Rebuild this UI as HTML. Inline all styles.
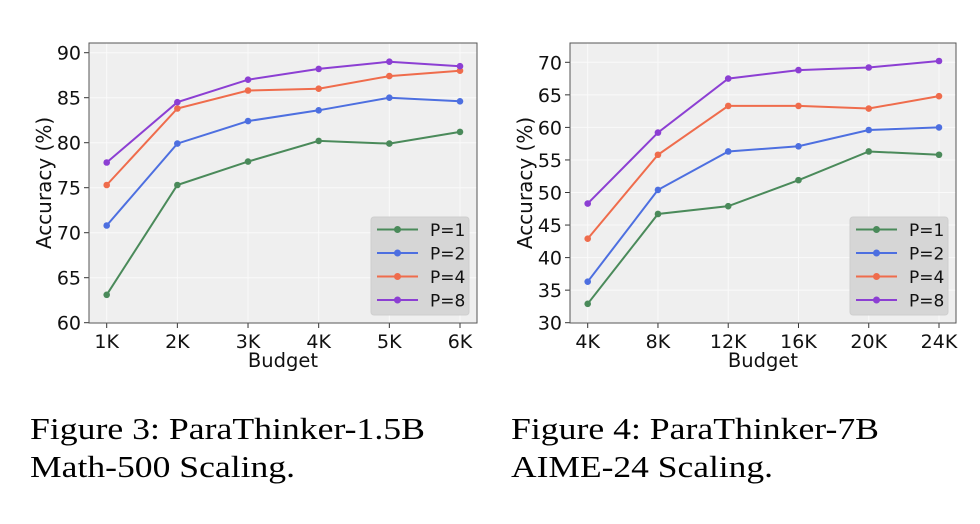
<!DOCTYPE html>
<html><head><meta charset="utf-8"><style>
html,body{margin:0;padding:0;background:#fff;width:980px;height:524px;overflow:hidden}
svg{display:block}
.cap{font-family:"Liberation Serif","Times New Roman",serif;font-size:31px;fill:#000}
.sans{font-family:"DejaVu Sans",sans-serif;fill:#111}
</style></head><body>
<svg id="fig" width="980" height="524" viewBox="0 0 980 524" xmlns="http://www.w3.org/2000/svg">
<text class="cap" x="30" y="439" textLength="395" lengthAdjust="spacingAndGlyphs">Figure 3: ParaThinker-1.5B</text>
<text class="cap" x="30" y="477" textLength="265" lengthAdjust="spacingAndGlyphs">Math-500 Scaling.</text>
<text class="cap" x="511" y="439" textLength="368" lengthAdjust="spacingAndGlyphs">Figure 4: ParaThinker-7B</text>
<text class="cap" x="511" y="477" textLength="262" lengthAdjust="spacingAndGlyphs">AIME-24 Scaling.</text>
</svg>
<script>
const seriesNames = ["P=1","P=2","P=4","P=8"];
const leftCategories = ["1K","2K","3K","4K","5K","6K"];
const leftP1 = [63.1,75.3,77.9,80.2,79.9,81.2];
const leftP2 = [70.8,79.9,82.4,83.6,85.0,84.6];
const leftP4 = [75.3,83.8,85.8,86.0,87.4,88.0];
const leftP8 = [77.8,84.5,87.0,88.2,89.0,88.5];
const leftTicks = [60,65,70,75,80,85,90];
const rightCategories = ["4K","8K","12K","16K","20K","24K"];
const rightP1 = [32.9,46.7,47.9,51.9,56.3,55.8];
const rightP2 = [36.3,50.4,56.3,57.1,59.6,60.0];
const rightP4 = [42.9,55.8,63.3,63.3,62.9,64.8];
const rightP8 = [48.3,59.2,67.5,68.8,69.2,70.2];
const rightTicks = [30,35,40,45,50,55,60,65,70];
const colors = ["#4a8a5a","#4d6fe0","#ef6c4c","#8c3fd3"];
const NS="http://www.w3.org/2000/svg";
const svg=document.getElementById('fig');
function mk(tag,attrs,parent){const e=document.createElementNS(NS,tag);for(const k in attrs)e.setAttribute(k,attrs[k]);(parent||svg).appendChild(e);return e;}
function drawChart(cfg){
  const g=mk('g',{});
  
  
  const {x0,x1,y0,y1,px0,px1,ymin,ymax,py0,py1}=cfg;
  const xs=i=>px0+(px1-px0)*i/(cfg.cats.length-1);
  const ys=v=>py0+(py1-py0)*(v-ymin)/(ymax-ymin);
  const bg=mk('rect',{x:x0,y:y0,width:x1-x0,height:y1-y0,fill:"#efefef"},g);
  
  
  cfg.ticks.forEach(t=>{
    const y=ys(t);
    mk('line',{x1:x0,x2:x1,y1:y,y2:y,stroke:"#fafafa","stroke-width":1},g);
    mk('line',{x1:x0-5,x2:x0,y1:y,y2:y,stroke:"#333","stroke-width":1},g);
    const tx=mk('text',{x:x0-8,y:y+7,"text-anchor":"end",class:"sans",style:"font-size:19px"},g);
    tx.textContent=t;
    
    
  });
  cfg.cats.forEach((c,i)=>{
    const x=xs(i);
    mk('line',{x1:x,x2:x,y1:y0,y2:y1,stroke:"#fafafa","stroke-width":1},g);
    mk('line',{x1:x,x2:x,y1:y1,y2:y1+5,stroke:"#333","stroke-width":1},g);
    const tx=mk('text',{x:x,y:y1+25,"text-anchor":"middle",class:"sans",style:"font-size:19px"},g);
    tx.textContent=c;
    
    
  });
  mk('rect',{x:x0,y:y0,width:x1-x0,height:y1-y0,fill:"none",stroke:"#555","stroke-width":1},g);
  const xt=mk('text',{x:(x0+x1)/2,y:y1+44,"text-anchor":"middle",class:"sans",style:"font-size:19.5px"},g);
  xt.textContent="Budget";
  
  
  const yt=mk('text',{x:0,y:0,"text-anchor":"middle",class:"sans",style:"font-size:20px",transform:`translate(${cfg.ytx},${(y0+y1)/2}) rotate(-90)`},g);
  yt.textContent="Accuracy (%)";
  
  
  cfg.series.forEach((vals,si)=>{
    const pts=vals.map((v,i)=>xs(i)+","+ys(v)).join(" ");
    const pl=mk('polyline',{points:pts,fill:"none",stroke:colors[si],"stroke-width":2},g);
    
    
    vals.forEach((v,i)=>{
      const c=mk('circle',{cx:xs(i),cy:ys(v),r:3.3,fill:colors[si]},g);
      
      
    });
  });
  const lg=mk('g',{},g);
  
  
  mk('rect',{x:cfg.lx,y:217,width:98,height:98,rx:3,fill:"#d6d6d6",stroke:"#cfcfcf"},lg);
  seriesNames.forEach((n,i)=>{
    const y=229.5+i*23.5;
    mk('line',{x1:cfg.lx+6,x2:cfg.lx+47,y1:y,y2:y,stroke:colors[i],"stroke-width":2},lg);
    mk('circle',{cx:cfg.lx+26.5,cy:y,r:3.5,fill:colors[i]},lg);
    const t=mk('text',{x:cfg.lx+59,y:y+6.5,class:"sans",style:"font-size:17px"},lg);
    t.textContent=n;
    
    
  });
}
drawChart({name:"chart-math500",x0:89,x1:477,y0:43,y1:323,px0:106.7,px1:460,ymin:60,ymax:90,py0:322.7,py1:52.7,
  cats:leftCategories,ticks:leftTicks,series:[leftP1,leftP2,leftP4,leftP8],lx:371,ytx:51});
drawChart({name:"chart-aime24",x0:570,x1:956,y0:43,y1:323,px0:587.7,px1:939,ymin:30,ymax:70,py0:322.7,py1:62.3,
  cats:rightCategories,ticks:rightTicks,series:[rightP1,rightP2,rightP4,rightP8],lx:850,ytx:532});
</script>
</body></html>
